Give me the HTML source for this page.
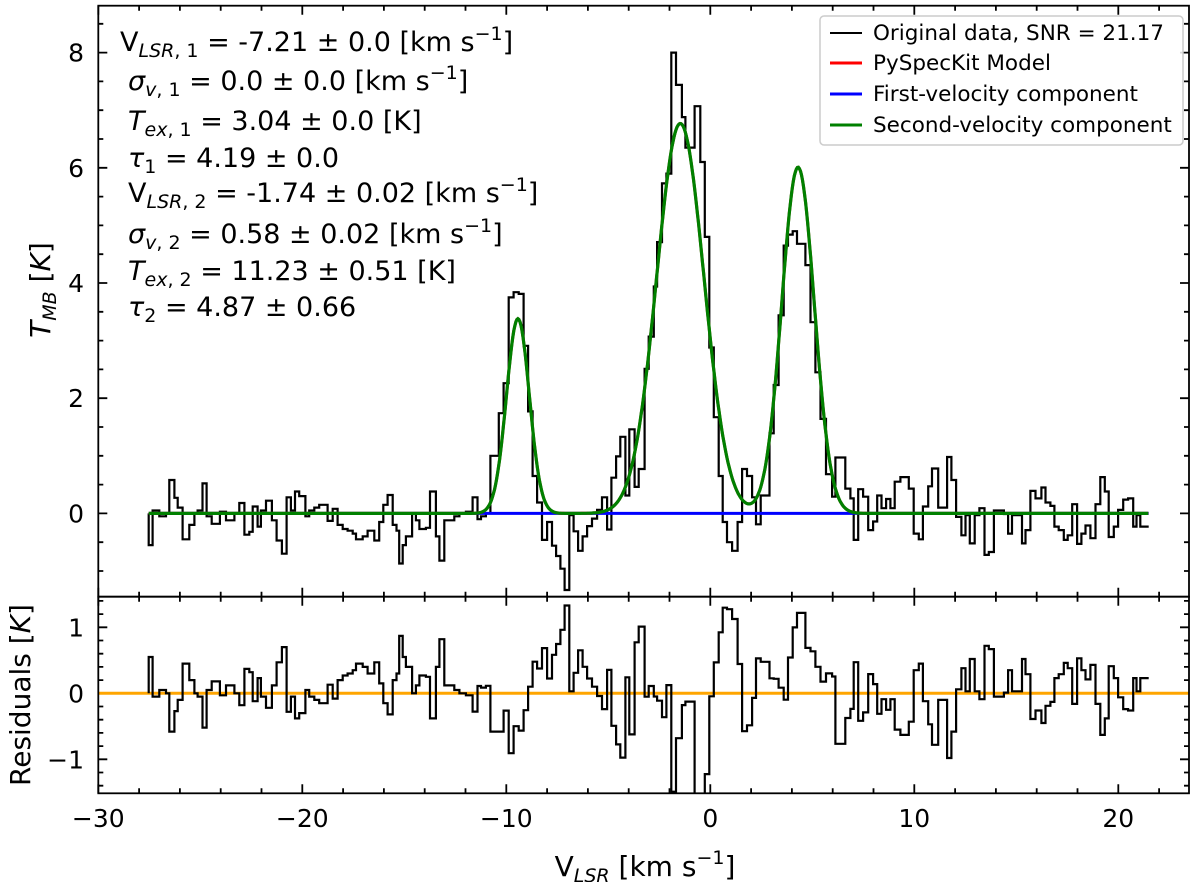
<!DOCTYPE html>
<html><head><meta charset="utf-8"><style>
html,body{margin:0;padding:0;background:#fff;}
svg{display:block;font-family:"DejaVu Sans","Liberation Sans",sans-serif;}
</style></head><body>
<svg id="fig" width="1200" height="882" viewBox="0 0 1200 882" xmlns="http://www.w3.org/2000/svg">
<rect x="0" y="0" width="1200" height="882" fill="#fff"/>
<g id="topPanel"></g>
<g id="botPanel"></g>
<g id="annot" font-size="27" fill="#000">
<text x="120" y="51">V<tspan font-size="19" dy="6" font-style="italic">LSR</tspan><tspan font-size="19">, 1</tspan><tspan dy="-6"> = -7.21 ± 0.0 [km s</tspan><tspan font-size="19" dy="-11">−1</tspan><tspan dy="11">]</tspan></text>
<text x="128" y="90"><tspan font-style="italic">σ</tspan><tspan font-size="19" dy="6" font-style="italic">v</tspan><tspan font-size="19">, 1</tspan><tspan dy="-6"> = 0.0 ± 0.0 [km s</tspan><tspan font-size="19" dy="-11">−1</tspan><tspan dy="11">]</tspan></text>
<text x="128" y="130"><tspan font-style="italic">T</tspan><tspan font-size="19" dy="6" font-style="italic">ex</tspan><tspan font-size="19">, 1</tspan><tspan dy="-6"> = 3.04 ± 0.0 [K]</tspan></text>
<text x="128" y="167"><tspan font-style="italic">τ</tspan><tspan font-size="19" dy="6">1</tspan><tspan dy="-6"> = 4.19 ± 0.0</tspan></text>
<text x="128" y="202">V<tspan font-size="19" dy="6" font-style="italic">LSR</tspan><tspan font-size="19">, 2</tspan><tspan dy="-6"> = -1.74 ± 0.02 [km s</tspan><tspan font-size="19" dy="-11">−1</tspan><tspan dy="11">]</tspan></text>
<text x="128" y="243"><tspan font-style="italic">σ</tspan><tspan font-size="19" dy="6" font-style="italic">v</tspan><tspan font-size="19">, 2</tspan><tspan dy="-6"> = 0.58 ± 0.02 [km s</tspan><tspan font-size="19" dy="-11">−1</tspan><tspan dy="11">]</tspan></text>
<text x="128" y="280"><tspan font-style="italic">T</tspan><tspan font-size="19" dy="6" font-style="italic">ex</tspan><tspan font-size="19">, 2</tspan><tspan dy="-6"> = 11.23 ± 0.51 [K]</tspan></text>
<text x="128" y="316"><tspan font-style="italic">τ</tspan><tspan font-size="19" dy="6">2</tspan><tspan dy="-6"> = 4.87 ± 0.66</tspan></text>
</g>
<g id="legend">
<rect x="820" y="16" width="363" height="129" rx="4" fill="#fff" fill-opacity="0.85" stroke="#ccc" stroke-width="1.5"/>
<g><line x1="830" y1="33" x2="862" y2="33" stroke="#000" stroke-width="2"/><text x="873" y="40" font-size="21.5">Original data, SNR = 21.17</text></g>
<g><line x1="830" y1="63" x2="862" y2="63" stroke="#ff0000" stroke-width="3"/><text x="873" y="70" font-size="21.5">PySpecKit Model</text></g>
<g><line x1="830" y1="94" x2="862" y2="94" stroke="#0000ff" stroke-width="3"/><text x="873" y="101" font-size="21.5">First-velocity component</text></g>
<g><line x1="830" y1="125" x2="862" y2="125" stroke="#008000" stroke-width="3"/><text x="873" y="132" font-size="21.5">Second-velocity component</text></g>
</g>
<text transform="translate(50,290) rotate(-90)" text-anchor="middle" font-size="28"><tspan font-style="italic">T</tspan><tspan font-size="19" dy="6" font-style="italic">MB</tspan><tspan dy="-6"> [</tspan><tspan font-style="italic">K</tspan>]</text>
<text transform="translate(30,695) rotate(-90)" text-anchor="middle" font-size="28">Residuals [<tspan font-style="italic">K</tspan>]</text>
<text x="645" y="876" text-anchor="middle" font-size="28">V<tspan font-size="19" dy="6" font-style="italic">LSR</tspan><tspan dy="-6"> [km s</tspan><tspan font-size="19" dy="-12">−1</tspan><tspan dy="12">]</tspan></text>
</svg>
<script>
// channel edges (km/s) and brightness temperatures (K)
const edges = [-27.53,-27.34,-27.01,-26.68,-26.52,-26.27,-26.11,-25.87,-25.54,-25.29,-25.13,-24.89,-24.69,-24.44,-24.04,-23.74,-23.33,-23.09,-22.84,-22.6,-22.43,-22.19,-22.03,-21.78,-21.49,-21.26,-21.0,-20.77,-20.56,-20.36,-20.15,-19.85,-19.66,-19.41,-19.17,-18.76,-18.51,-18.27,-18.02,-17.78,-17.53,-17.37,-17.04,-16.8,-16.47,-16.23,-16.03,-15.82,-15.57,-15.38,-15.25,-15.08,-14.92,-14.62,-14.43,-14.26,-13.94,-13.74,-13.45,-13.28,-13.04,-12.55,-12.3,-11.98,-11.65,-11.41,-11.24,
-11.0,-10.78,-10.37,-10.13,-9.88,-9.64,-9.39,-9.15,-8.93,-8.71,-8.49,-8.25,-8.0,-7.76,-7.56,-7.35,-7.14,-6.91,-6.70,-6.48,-6.26,-6.04,-5.80,-5.55,-5.31,-5.06,-4.85,-4.62,-4.41,-4.16,-3.97,-3.71,-3.51,-3.22,-3.02,-2.77,-2.61,-2.37,-2.15,-1.91,-1.68,-1.39,-1.22,-0.77,-0.49,-0.27,-0.05,0.17,0.41,0.61,0.82,1.07,1.34,1.56,1.80,2.05,2.24,2.47,2.90,3.11,3.35,3.60,3.81,4.04,4.25,4.66,4.91,5.15,5.40,5.67,
5.97,6.13,6.62,6.87,7.03,7.25,7.49,7.74,7.98,8.18,8.39,8.62,8.83,9.04,9.32,9.73,9.97,10.22,10.42,10.68,10.87,11.17,11.61,11.82,12.05,12.31,12.51,12.72,12.96,13.19,13.44,13.65,13.90,14.39,14.60,14.79,15.04,15.28,15.45,15.69,15.94,16.23,16.43,16.67,16.87,17.08,17.33,17.52,17.74,17.98,18.19,18.39,18.63,18.88,19.12,19.34,19.53,19.78,19.99,20.24,20.48,20.73,20.89,21.08,21.25,21.49];
const tmb = [-0.55,0.05,-0.05,0.0,0.58,0.27,0.1,-0.45,-0.2,0.0,0.05,0.52,-0.05,-0.18,0.03,-0.12,0.0,0.18,-0.37,-0.32,0.12,-0.23,0.05,0.22,-0.12,-0.47,-0.7,0.28,0.05,0.38,0.3,-0.05,0.05,0.1,0.15,-0.13,0.08,-0.2,-0.27,-0.3,-0.35,-0.45,-0.4,-0.3,-0.47,-0.15,0.15,0.32,-0.2,-0.3,-0.87,-0.55,-0.4,0.0,-0.12,-0.27,-0.25,0.38,-0.4,-0.82,-0.12,-0.05,0.0,0.03,0.28,-0.1,
-0.05,0.0,1.0,1.74,2.26,3.75,3.84,3.81,2.91,1.77,0.65,0.19,-0.46,-0.15,-0.56,-0.74,-0.96,-1.33,-0.03,-0.31,-0.65,-0.4,-0.22,-0.09,0.06,0.28,-0.28,0.62,0.99,1.33,0.31,1.46,0.46,0.77,2.51,3.07,3.94,4.71,5.73,5.9,8.0,7.44,6.88,6.35,7.07,6.1,4.8,2.88,1.67,0.65,-0.15,-0.5,-0.65,-0.15,0.77,0.65,0.28,-0.19,0.31,1.39,2.23,3.44,4.65,4.84,4.9,4.68,4.31,3.32,2.45,1.64,0.68,
0.29,0.97,0.43,0.26,-0.46,0.42,0.29,-0.29,-0.14,0.31,0.09,0.25,0.09,0.55,0.63,0.43,-0.35,-0.45,0.12,0.47,0.78,0.1,0.98,0.58,-0.06,-0.38,-0.03,-0.52,-0.03,0.09,-0.72,-0.67,0.05,-0.01,-0.35,-0.03,-0.03,-0.52,-0.29,0.39,0.26,0.45,0.19,0.13,-0.23,-0.29,-0.46,-0.38,0.16,-0.53,-0.35,-0.21,-0.43,0.16,0.63,0.38,-0.41,-0.23,0.06,0.24,0.26,-0.23,-0.03,-0.23,-0.23];
// model component peaks (velocity, amplitude K, FWHM km/s)
const compCenters = [-9.43, -1.47, 4.30];
const compAmps = [3.38, 6.77, 6.01];
const compFWHM = [1.32, 2.73, 1.88];
const xTicks = [-30,-20,-10,0,10,20];
const yTicksTop = [0,2,4,6,8];
const yTicksRes = [-1,0,1];

const NS = "http://www.w3.org/2000/svg";
const X0 = 98.3, XR = 1189, PX = 20.4;
const xs = v => X0 + (v + 30) * PX;
const TT = 5.7, TB = 596.7, yT = v => 513.4 - v * 57.6;
const RT = 596.7, RB = 793.3, yR = v => 693.3 - v * 66;
function model(v){let s=0;for(let i=0;i<compCenters.length;i++){const sg=compFWHM[i]/2.3548;s+=compAmps[i]*Math.exp(-0.5*Math.pow((v-compCenters[i])/sg,2));}return s;}
function mk(tag, attrs, parent){const e=document.createElementNS(NS,tag);for(const k in attrs)e.setAttribute(k,attrs[k]);parent.appendChild(e);return e;}
const topG = document.getElementById('topPanel'), botG = document.getElementById('botPanel');
const n = Math.min(tmb.length, edges.length - 1);
const vMax = (XR - X0) / PX - 30;

const defs = mk('defs', {}, document.getElementById('fig'));
const c1 = mk('clipPath', {id:'ct'}, defs); mk('rect', {x:X0,y:TT,width:XR-X0,height:TB-TT}, c1);
const c2 = mk('clipPath', {id:'cb'}, defs); mk('rect', {x:X0,y:RT,width:XR-X0,height:RB-RT}, c2);
const gt = mk('g', {'clip-path':'url(#ct)'}, topG);
const gb = mk('g', {'clip-path':'url(#cb)'}, botG);

let d = `M${xs(edges[0]).toFixed(1)},${yT(0).toFixed(1)}`;
for (let i = 0; i < n; i++) d += `V${yT(tmb[i]).toFixed(1)}H${xs(edges[i+1]).toFixed(1)}`;
const dataLine = mk('path', {d:d, fill:'none', stroke:'#000', 'stroke-width':2.2}, gt);



const blue = mk('line', {x1:xs(edges[0]), y1:yT(0), x2:xs(edges[n]), y2:yT(0), stroke:'#0000ff', 'stroke-width':3}, gt);



let md = '';
for (let v = edges[0]; v <= edges[n] + 1e-9; v += 0.05) md += (md ? 'L' : 'M') + xs(v).toFixed(1) + ',' + yT(model(v)).toFixed(1);
const red = mk('path', {d:md, fill:'none', stroke:'#ff0000', 'stroke-width':3}, gt);


const green = mk('path', {d:md, fill:'none', stroke:'#008000', 'stroke-width':3.2}, gt);



const orange = mk('line', {x1:X0, y1:yR(0), x2:XR, y2:yR(0), stroke:'#ffa500', 'stroke-width':3}, gb);


let rd = `M${xs(edges[0]).toFixed(1)},${yR(0).toFixed(1)}`;
for (let i = 0; i < n; i++) { const c = (edges[i] + edges[i+1]) / 2; rd += `V${yR(model(c) - tmb[i]).toFixed(1)}H${xs(edges[i+1]).toFixed(1)}`; }
const resLine = mk('path', {d:rd, fill:'none', stroke:'#000', 'stroke-width':2.2}, gb);



const f1 = mk('rect', {x:X0, y:TT, width:XR-X0, height:TB-TT, fill:'none', stroke:'#000', 'stroke-width':1.8}, topG);


const f2 = mk('rect', {x:X0, y:RT, width:XR-X0, height:RB-RT, fill:'none', stroke:'#000', 'stroke-width':1.8}, botG);



let tk = '';
for (let v = -30; v <= vMax; v += 2) {
  const L = (v % 10 === 0) ? 9 : 5, x = xs(v).toFixed(1);
  tk += `M${x},${TT}v${L}M${x},${TB}v${-L}M${x},${RT}v${L}M${x},${RB}v${-L}`;
}
for (let k = -2; k <= 17; k++) { const v = k * 0.5; const y = yT(v); if (y < TT || y > TB) continue; const L = (k % 4 === 0) ? 9 : 5; tk += `M${X0},${y.toFixed(1)}h${L}M${XR},${y.toFixed(1)}h${-L}`; }
for (let k = -7; k <= 7; k++) { const v = k * 0.2; const y = yR(v); if (y < RT || y > RB) continue; const L = (k % 5 === 0) ? 9 : 5; tk += `M${X0},${y.toFixed(1)}h${L}M${XR},${y.toFixed(1)}h${-L}`; }
const ticks = mk('path', {d:tk, stroke:'#000', 'stroke-width':1.8, fill:'none'}, topG);



for (const v of xTicks) {
  const t = mk('text', {x:xs(v), y:827, 'text-anchor':'middle', 'font-size':25}, botG);
  t.textContent = v < 0 ? '\u2212' + Math.abs(v) : String(v);
  
  
}
for (const v of yTicksTop) {
  const t = mk('text', {x:84, y:yT(v) + 9, 'text-anchor':'end', 'font-size':25}, topG);
  t.textContent = String(v);
  
  
}
for (const v of yTicksRes) {
  const t = mk('text', {x:84, y:yR(v) + 9, 'text-anchor':'end', 'font-size':25}, botG);
  t.textContent = v < 0 ? '\u2212' + Math.abs(v) : String(v);
  
  
}
</script>
</body></html>
